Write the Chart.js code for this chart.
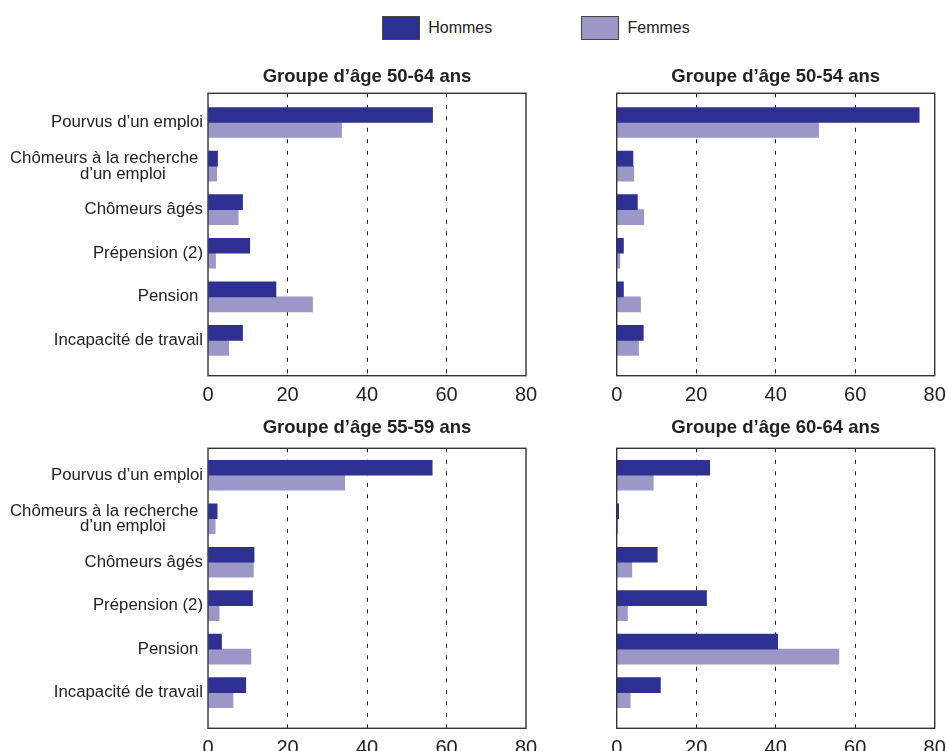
<!DOCTYPE html>
<html lang="fr">
<head>
<meta charset="utf-8">
<title>Situation sur le marché du travail par groupe d'âge</title>
<script src="https://cdn.jsdelivr.net/npm/chart.js@4/dist/chart.umd.min.js"></script>
<style>
  html, body { margin: 0; padding: 0; background: #ffffff; }
  body { width: 946px; height: 751px; position: relative; overflow: hidden;
         font-family: "Liberation Sans", Arial, Helvetica, sans-serif; color: #222; }
  canvas { position: absolute; }
  .leg-box { position: absolute; width: 36px; height: 22px; border: 1px solid #444; }
  .leg-text { position: absolute; font-size: 16px; line-height: 20px; color: #222; }
</style>
</head>
<body>
<div id="legend"></div>
<canvas id="c5064" width="540" height="355" style="left:0px;top:50px"></canvas>
<canvas id="c5054" width="386" height="355" style="left:560px;top:50px"></canvas>
<canvas id="c5559" width="540" height="346" style="left:0px;top:405px"></canvas>
<canvas id="c6064" width="386" height="346" style="left:560px;top:405px"></canvas>
<script>
// Categories (tick label lines for the vertical axis)
const categories = [
  'Pourvus d’un emploi',
  'Chômeurs à la recherche d’un emploi',
  'Chômeurs âgés',
  'Prépension (2)',
  'Pension',
  'Incapacité de travail'
];
const categoryLines = [
  'Pourvus d’un emploi',
  ['Chômeurs à la recherche ', 'd’un emploi        '],
  'Chômeurs âgés',
  'Prépension (2)',
  'Pension ',
  'Incapacité de travail'
];

// Series
const seriesNames = ['Hommes', 'Femmes'];
const seriesColors = ['#2e3192', '#9b98c9'];

// Values (%), one array per age group and sex
const hommes5064 = [56.5, 2.4, 8.7, 10.5, 17.1, 8.7];
const femmes5064 = [33.6, 2.2, 7.6, 1.9, 26.3, 5.2];
const hommes5054 = [76.1, 4.1, 5.2, 1.7, 1.7, 6.7];
const femmes5054 = [50.8, 4.3, 6.8, 0.8, 6.0, 5.5];
const hommes5559 = [56.4, 2.3, 11.6, 11.2, 3.4, 9.5];
const femmes5559 = [34.4, 1.8, 11.4, 2.8, 10.8, 6.3];
const hommes6064 = [23.4, 0.5, 10.2, 22.6, 40.5, 11.0];
const femmes6064 = [9.2, 0.3, 3.8, 2.7, 55.9, 3.4];

// Value axis ticks
const xTicks = [0, 20, 40, 60, 80];

const FONT = '"Liberation Sans", Arial, Helvetica, sans-serif';

// Frame around the plot area and the panel heading
const panelFrame = {
  id: 'panelFrame',
  afterDraw(chart, args, opts) {
    const { ctx, chartArea: a } = chart;
    ctx.save();
    ctx.setLineDash([]);
    ctx.strokeStyle = '#333';
    ctx.lineWidth = 1.4;
    ctx.strokeRect(a.left, a.top, a.right - a.left, a.bottom - a.top);
    ctx.fillStyle = '#222';
    ctx.font = 'bold 18.5px ' + FONT;
    ctx.textAlign = 'center';
    ctx.textBaseline = 'alphabetic';
    ctx.fillText(opts.text, (a.left + a.right) / 2, a.top - opts.gap);
    ctx.restore();
  }
};

function makePanel(id, title, gap, hommes, femmes, cfg) {
  const rows = [hommes, femmes];
  new Chart(document.getElementById(id), {
    type: 'bar',
    data: {
      datasets: seriesNames.map((name, k) => ({
        label: name,
        data: rows[k].map((v, i) => ({ x: v, y: i })),
        backgroundColor: seriesColors[k],
        borderWidth: 0,
        barThickness: 15
      }))
    },
    plugins: [panelFrame],
    options: {
      indexAxis: 'y',
      responsive: false,
      animation: false,
      layout: { padding: { top: 43.3, right: cfg.padRight, left: 0, bottom: 0 } },
      plugins: {
        legend: { display: false },
        tooltip: { enabled: false },
        panelFrame: { text: title, gap: gap }
      },
      scales: {
        x: {
          type: 'linear',
          min: xTicks[0],
          max: xTicks[xTicks.length - 1],
          afterBuildTicks(s) { s.ticks = xTicks.map(v => ({ value: v })); },
          ticks: { padding: 8, color: '#222', font: { family: FONT, size: 20 } },
          grid: {
            drawTicks: false,
            lineWidth: 1,
            color: c => (c.tick && (c.tick.value === xTicks[0] || c.tick.value === xTicks[xTicks.length - 1]))
              ? 'rgba(0,0,0,0)' : '#222'
          },
          border: { display: false, dash: [4, 7.5] },
          afterFit(s) { s.height = cfg.xHeight; s.paddingLeft = 0; s.paddingRight = 0; }
        },
        y: {
          type: 'linear',
          reverse: true,
          offset: false,
          min: cfg.yMin,
          max: cfg.yMax,
          afterBuildTicks(s) { s.ticks = categories.map((_, i) => ({ value: i })); },
          ticks: {
            display: cfg.showLabels,
            padding: 5,
            color: '#222',
            font: { family: FONT, size: 16.8, lineHeight: 0.93 },
            callback: v => categoryLines[v]
          },
          grid: { display: false, drawTicks: false, offset: false },
          border: { display: false },
          afterFit(s) { s.width = cfg.yWidth; s.paddingTop = 0; s.paddingBottom = 0; }
        }
      }
    }
  });
}

makePanel('c5064', 'Groupe d’âge 50-64 ans', 11.6, hommes5064, femmes5064,
  { padRight: 14, xHeight: 29.3, yWidth: 208, yMin: -0.67, yMax: 5.81, showLabels: true });
makePanel('c5054', 'Groupe d’âge 50-54 ans', 11.6, hommes5054, femmes5054,
  { padRight: 11.3, xHeight: 29.3, yWidth: 56.7, yMin: -0.67, yMax: 5.81, showLabels: false });
makePanel('c5559', 'Groupe d’âge 55-59 ans', 15.6, hommes5559, femmes5559,
  { padRight: 14, xHeight: 22.7, yWidth: 208, yMin: -0.62, yMax: 5.82, showLabels: true });
makePanel('c6064', 'Groupe d’âge 60-64 ans', 15.6, hommes6064, femmes6064,
  { padRight: 11.3, xHeight: 22.7, yWidth: 56.7, yMin: -0.62, yMax: 5.82, showLabels: false });

// Shared legend above the panels
const legendLefts = [381.7, 581];
const legend = document.getElementById('legend');
seriesNames.forEach((name, k) => {
  const box = document.createElement('div');
  box.className = 'leg-box';
  box.style.left = legendLefts[k] + 'px';
  box.style.top = '16px';
  box.style.background = seriesColors[k];
  const txt = document.createElement('div');
  txt.className = 'leg-text';
  txt.style.left = (legendLefts[k] + 46.5) + 'px';
  txt.style.top = '18px';
  txt.textContent = name;
  legend.appendChild(box);
  legend.appendChild(txt);
});
</script>
</body>
</html>
